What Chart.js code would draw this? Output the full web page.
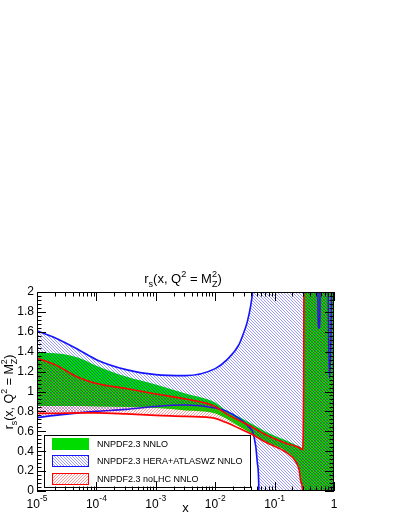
<!DOCTYPE html>
<html>
<head>
<meta charset="utf-8">
<title>r_s(x, Q2 = MZ2)</title>
<script src="https://cdn.jsdelivr.net/npm/chart.js"></script>
<style>
    body {
        margin: 0;
        background: #fff;
    }
    canvas {
        display: block;
    }
</style>
</head>
<body>
<canvas id="rsChart" width="401" height="518"></canvas>
<script>
    // legend names
    var bandLabels = ['NNPDF2.3 NNLO', 'NNPDF2.3 HERA+ATLASWZ NNLO', 'NNPDF2.3 noLHC NNLO'];

    // x grid shared by the NNLO (green) and noLHC (red) bands
    var bandX = [1e-5, 2e-5, 5.01e-5, 1e-4, 3.16e-4, 1e-3, 3.16e-3, 1e-2, 0.015, 0.0251, 0.0396,
                 0.071, 0.1545, 0.2239, 0.2594, 0.2773, 0.2958, 0.3076, 0.3162, 0.3548, 1];
    var greenHigh = [1.39, 1.385, 1.34, 1.26, 1.15, 1.07, 0.98, 0.89, 0.814, 0.745, 0.68,
                     0.596, 0.51, 0.465, 0.45, 0.44, 0.43, 1.0, 3, 3, 3];
    var greenLow = [0.855, 0.855, 0.855, 0.85, 0.845, 0.835, 0.81, 0.78, 0.73, 0.65, 0.58,
                    0.495, 0.40, 0.30, 0.21, 0.09, 0, -1, -3, -3, -3];
    var redHigh = [1.335, 1.27, 1.14, 1.08, 1.03, 0.975, 0.925, 0.85, 0.78, 0.71, 0.65,
                   0.565, 0.48, 0.45, 0.435, 0.425, 0.415, 1.0, 3, 3, 3];
    var redLow = [0.78, 0.78, 0.785, 0.785, 0.775, 0.76, 0.75, 0.73, 0.69, 0.63, 0.575,
                  0.49, 0.39, 0.30, 0.21, 0.09, 0, -1, -3, -3, -3];

    // HERA+ATLASWZ (blue) band
    var blueX = [1e-5, 2e-5, 5.01e-5, 1e-4, 3.16e-4, 1e-3, 3.16e-3, 1e-2, 0.01585, 0.0251,
                 0.02884, 0.03467, 0.03981, 0.04266, 0.04808, 0.05129, 0.05433, 0.05754,
                 0.5012, 0.5309, 0.5395, 0.5585, 0.5781, 0.5861,
                 0.7586, 0.7943, 0.8337, 0.8913, 0.9226, 0.955, 1];
    var blueHigh = [1.61, 1.54, 1.42, 1.32, 1.22, 1.17, 1.16, 1.23, 1.32, 1.47,
                    1.56, 1.70, 1.87, 2.0, 2.3, 2.6, 3, 3,
                    3, 2.5, 1.75, 1.635, 1.75, 2.5,
                    3, 2.2, 1.13, 1.6, 2.5, 3, 3];
    var blueLow = [0.737, 0.76, 0.785, 0.80, 0.82, 0.85, 0.864, 0.835, 0.80, 0.73,
                   0.70, 0.66, 0.62, 0.596, 0.45, 0.28, 0, -2,
                   -2, -2, -2, -2, -2, -2,
                   -2, -2, -2, -2, -2, -2, -2];

    // axis ticks
    var xTicks = [1e-5, 1e-4, 1e-3, 1e-2, 1e-1, 1];
    var xTickBase = ['10', '10', '10', '10', '10', '1'];
    var xTickExp = ['-5', '-4', '-3', '-2', '-1', ''];
    var yTicks = [0, 0.2, 0.4, 0.6, 0.8, 1, 1.2, 1.4, 1.6, 1.8, 2];
    var yTickLabels = ['0', '0.2', '0.4', '0.6', '0.8', '1', '1.2', '1.4', '1.6', '1.8', '2'];

    var FONT = '"Liberation Sans", Arial, sans-serif';
    var GREEN = '#00dc00';
    var BLUE = '#1414ff';
    var RED = '#ff0000';

    function pts(xs, ys) {
        return xs.map(function (x, i) { return { x: x, y: ys[i] }; });
    }

    var canvas = document.getElementById('rsChart');
    var ctx = canvas.getContext('2d');

    // 1px diagonal hatch, dir 1 = "///", dir -1 = "\\\"
    function hatch(color, dir, size) {
        var c = document.createElement('canvas');
        c.width = size;
        c.height = size;
        var g = c.getContext('2d');
        g.fillStyle = color;
        for (var i = 0; i < size; i++) {
            g.fillRect(dir > 0 ? size - 1 - i : i, i, 1, 1);
        }
        return ctx.createPattern(c, 'repeat');
    }
    var blueHatch = hatch('rgba(0, 0, 255, 0.4)', -1, 3);
    var redHatch = hatch('rgba(255, 0, 0, 0.4)', 1, 3);

    // text with sub/superscripts; m: 0 normal, 1 sub, 2 sup, 3 sup+sub stacked
    function drawRich(c, parts, x, y, size, angle) {
        var small = size * 0.7;
        function f(s) { return s.toFixed(1) + 'px ' + FONT; }
        function w(p) {
            c.font = f(p.m === 0 ? size : small);
            if (p.m === 3) return Math.max(c.measureText(p.t[0]).width, c.measureText(p.t[1]).width);
            return c.measureText(p.t).width;
        }
        var total = parts.reduce(function (s, p) { return s + w(p); }, 0);
        c.save();
        c.translate(x, y);
        c.rotate(angle || 0);
        c.fillStyle = '#000';
        c.textBaseline = 'alphabetic';
        c.textAlign = 'left';
        var px = -total / 2;
        parts.forEach(function (p) {
            var pw = w(p);
            if (p.m === 0) { c.font = f(size); c.fillText(p.t, px, 0); }
            else {
                c.font = f(small);
                if (p.m === 1) c.fillText(p.t, px, size * 0.3);
                if (p.m === 2) c.fillText(p.t, px, -size * 0.45);
                if (p.m === 3) { c.fillText(p.t[0], px, -size * 0.45); c.fillText(p.t[1], px, size * 0.3); }
            }
            px += pw;
        });
        c.restore();
    }

    var titleParts = [{ t: 'r', m: 0 }, { t: 's', m: 1 }, { t: '(x, Q', m: 0 }, { t: '2', m: 2 },
                      { t: ' = M', m: 0 }, { t: ['2', 'Z'], m: 3 }, { t: ')', m: 0 }];

    var framePlugin = {
        id: 'rootFrame',
        afterDraw: function (chart) {
            var c = chart.ctx;
            var a = chart.chartArea;
            var xs = chart.scales.x;
            var ys = chart.scales.y;

            // legend box
            var lx = 44, ly = 435, lw = 206, lh = 52;
            c.save();
            c.fillStyle = '#fff';
            c.fillRect(lx, ly, lw, lh);
            c.strokeStyle = '#000';
            c.lineWidth = 1;
            c.strokeRect(lx + 0.5, ly + 0.5, lw, lh);
            var fills = [GREEN, blueHatch, redHatch];
            var borders = [GREEN, BLUE, RED];
            var rowY = [438, 455, 473];
            for (var i = 0; i < 3; i++) {
                c.fillStyle = fills[i];
                c.fillRect(52, rowY[i], 37, 11);
                c.strokeStyle = borders[i];
                c.strokeRect(52.5, rowY[i] + 0.5, 36, 11);
                c.fillStyle = '#000';
                c.font = '9px ' + FONT;
                c.textBaseline = 'middle';
                c.textAlign = 'left';
                c.fillText(bandLabels[i], 97, rowY[i] + 6.5);
            }

            // frame
            c.strokeStyle = '#000';
            c.lineWidth = 1;
            c.strokeRect(a.left + 0.5, a.top + 0.5, a.right - a.left - 1, a.bottom - a.top - 1);

            // ticks
            c.beginPath();
            function xTick(v, len) {
                var p = Math.round(xs.getPixelForValue(v)) + 0.5;
                c.moveTo(p, a.bottom); c.lineTo(p, a.bottom - len);
                c.moveTo(p, a.top); c.lineTo(p, a.top + len);
            }
            function yTick(v, len) {
                var p = Math.round(ys.getPixelForValue(v)) + 0.5;
                c.moveTo(a.left, p); c.lineTo(a.left + len, p);
                c.moveTo(a.right, p); c.lineTo(a.right - len, p);
            }
            xTicks.forEach(function (v, i) {
                xTick(v, 9);
                if (i < xTicks.length - 1) {
                    for (var k = 2; k <= 9; k++) xTick(v * k, 4.5);
                }
            });
            yTicks.forEach(function (v, i) {
                yTick(v, 9);
                if (i < yTicks.length - 1) {
                    for (var k = 1; k <= 4; k++) yTick(v + k * 0.04, 4.5);
                }
            });
            c.stroke();

            // tick labels
            c.fillStyle = '#000';
            c.textBaseline = 'middle';
            c.textAlign = 'right';
            c.font = '12px ' + FONT;
            yTicks.forEach(function (v, i) {
                c.fillText(yTickLabels[i], 34, ys.getPixelForValue(v));
            });
            c.textBaseline = 'alphabetic';
            c.textAlign = 'left';
            xTicks.forEach(function (v, i) {
                c.font = '12px ' + FONT;
                var bw = c.measureText(xTickBase[i]).width;
                c.font = '8.5px ' + FONT;
                var ew = c.measureText(xTickExp[i]).width;
                var px = xs.getPixelForValue(v) - (bw + ew) / 2;
                c.font = '12px ' + FONT;
                c.fillText(xTickBase[i], px, 508);
                c.font = '8.5px ' + FONT;
                c.fillText(xTickExp[i], px + bw, 501);
            });

            // axis titles
            c.font = '13px ' + FONT;
            c.textAlign = 'center';
            c.fillText('x', (a.left + a.right) / 2, 512);
            drawRich(c, titleParts, 183, 283, 13, 0);
            drawRich(c, titleParts, 13, 392, 12.5, -Math.PI / 2);
            c.restore();
        }
    };

    function band(label, xs, high, low, fill, line, order, width) {
        return [{
            label: label,
            data: pts(xs, high),
            borderColor: line,
            borderWidth: width,
            backgroundColor: fill,
            fill: '+1',
            order: order
        }, {
            label: label + ' low',
            data: pts(xs, low),
            borderColor: line,
            borderWidth: width,
            fill: false,
            order: order
        }];
    }

    var datasets = []
        .concat(band(bandLabels[0], bandX, greenHigh, greenLow, GREEN, GREEN, 3, 0))
        .concat(band(bandLabels[1], blueX, blueHigh, blueLow, blueHatch, BLUE, 2, 1.6))
        .concat(band(bandLabels[2], bandX, redHigh, redLow, redHatch, RED, 1, 1.6));

    var rsChart = new Chart(ctx, {
        type: 'line',
        data: { datasets: datasets },
        options: {
            responsive: false,
            animation: false,
            devicePixelRatio: 1,
            layout: { padding: { left: 37, right: 67, top: 292, bottom: 27 } },
            elements: {
                point: { radius: 0 },
                line: { cubicInterpolationMode: 'monotone', capBezierPoints: false }
            },
            datasets: { line: { clip: 0 } },
            scales: {
                x: { type: 'logarithmic', min: 1e-5, max: 1, display: false },
                y: { type: 'linear', min: 0, max: 2, display: false }
            },
            plugins: {
                legend: { display: false },
                tooltip: { enabled: false },
                filler: { propagate: false }
            }
        },
        plugins: [framePlugin]
    });
</script>
</body>
</html>
